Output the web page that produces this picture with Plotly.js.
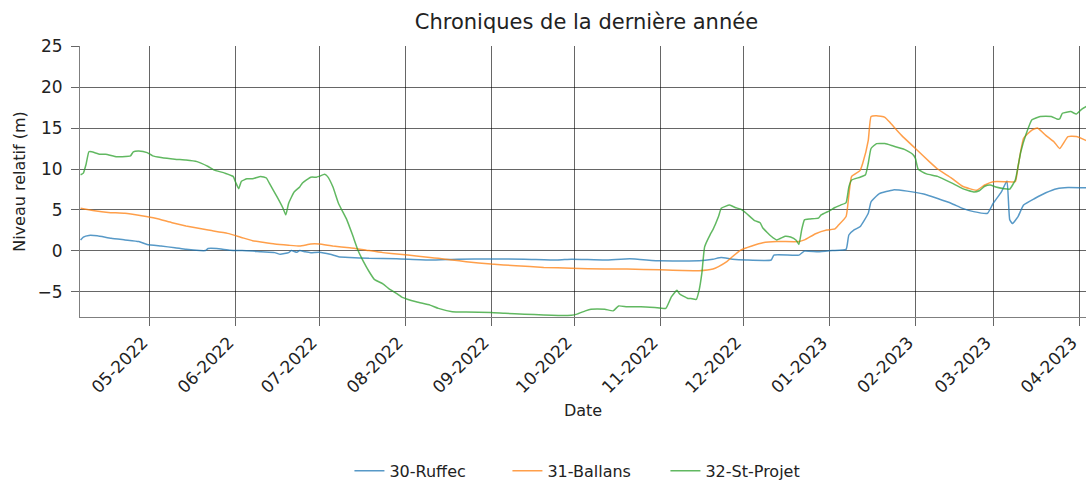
<!DOCTYPE html>
<html>
<head>
<meta charset="utf-8">
<script src="https://cdn.plot.ly/plotly-3.0.1.min.js"></script>
<style>html,body{margin:0;padding:0;background:#fff;}#chart{width:1086px;height:481px;}</style>
</head>
<body>
<div id="chart"></div>
<script>
// 30-Ruffec
const ruffecDates = ["2022-04-06","2022-04-07","2022-04-09","2022-04-12","2022-04-17","2022-04-22","2022-04-27","2022-04-30","2022-05-05","2022-05-10","2022-05-14","2022-05-19","2022-05-21","2022-05-22","2022-05-25","2022-05-30","2022-06-03","2022-06-07","2022-06-10","2022-06-15","2022-06-17","2022-06-20","2022-06-21","2022-06-23","2022-06-24","2022-06-26","2022-06-28","2022-07-01","2022-07-05","2022-07-08","2022-07-12","2022-07-19","2022-07-29","2022-08-10","2022-08-20","2022-09-01","2022-09-13","2022-09-25","2022-09-30","2022-10-12","2022-10-21","2022-11-01","2022-11-15","2022-11-20","2022-11-23","2022-11-27","2022-12-02","2022-12-11","2022-12-12","2022-12-21","2022-12-23","2022-12-28","2023-01-02","2023-01-07","2023-01-08","2023-01-10","2023-01-12","2023-01-15","2023-01-16","2023-01-19","2023-01-24","2023-01-29","2023-02-04","2023-02-09","2023-02-14","2023-02-18","2023-02-22","2023-02-27","2023-03-01","2023-03-04","2023-03-06","2023-03-07","2023-03-08","2023-03-10","2023-03-12","2023-03-16","2023-03-20","2023-03-24","2023-03-28","2023-04-04"];
const ruffecValues = [1.35,1.7,1.9,1.85,1.55,1.35,1.15,0.8,0.6,0.4,0.2,0.05,0.05,0.3,0.3,0.1,0.05,0.0,-0.1,-0.2,-0.4,-0.2,0.05,-0.15,0.05,-0.1,-0.2,-0.15,-0.4,-0.7,-0.8,-0.9,-0.95,-1.1,-1.0,-0.97,-1.0,-1.1,-1.0,-1.1,-0.95,-1.2,-1.2,-1.0,-0.8,-1.0,-1.1,-1.1,-0.5,-0.5,0.0,-0.1,0.05,0.2,1.95,2.6,2.95,4.6,6.0,7.0,7.45,7.3,6.95,6.4,5.8,5.2,4.8,4.6,5.8,7.2,8.55,3.8,3.35,4.2,5.6,6.4,7.1,7.6,7.75,7.7];

// 31-Ballans
const ballansDates = ["2022-04-06","2022-04-11","2022-04-16","2022-04-22","2022-04-28","2022-05-03","2022-05-09","2022-05-14","2022-05-22","2022-05-29","2022-06-03","2022-06-07","2022-06-10","2022-06-15","2022-06-20","2022-06-24","2022-06-28","2022-07-01","2022-07-06","2022-07-12","2022-07-18","2022-07-24","2022-07-30","2022-08-05","2022-08-10","2022-08-13","2022-08-18","2022-08-23","2022-09-01","2022-09-10","2022-09-20","2022-09-30","2022-10-12","2022-10-20","2022-11-01","2022-11-15","2022-11-20","2022-11-22","2022-11-25","2022-11-27","2022-11-30","2022-12-04","2022-12-08","2022-12-13","2022-12-21","2022-12-23","2022-12-27","2022-12-31","2023-01-03","2023-01-04","2023-01-07","2023-01-08","2023-01-09","2023-01-12","2023-01-13","2023-01-15","2023-01-16","2023-01-18","2023-01-21","2023-01-23","2023-01-27","2023-02-01","2023-02-06","2023-02-09","2023-02-14","2023-02-18","2023-02-23","2023-02-26","2023-03-01","2023-03-06","2023-03-09","2023-03-10","2023-03-12","2023-03-15","2023-03-17","2023-03-20","2023-03-23","2023-03-25","2023-03-28","2023-03-31","2023-04-04"];
const ballansValues = [5.2,4.9,4.7,4.6,4.3,4.0,3.45,3.05,2.55,2.15,1.65,1.25,1.1,0.85,0.7,0.6,0.85,0.85,0.6,0.4,0.1,-0.2,-0.4,-0.6,-0.8,-0.9,-1.1,-1.3,-1.6,-1.8,-2.0,-2.1,-2.2,-2.2,-2.3,-2.4,-2.2,-1.9,-1.3,-0.7,0.1,0.6,1.0,1.15,1.15,1.35,2.1,2.55,2.7,3.05,4.2,6.8,9.1,9.8,10.7,13.5,16.4,16.5,16.3,15.6,14.1,12.5,10.9,10.0,8.9,7.9,7.4,8.05,8.45,8.45,8.45,10.3,13.75,14.75,15.0,14.1,13.3,12.5,13.95,13.95,13.4];

// 32-St-Projet
const stProjetDates = ["2022-04-06","2022-04-07","2022-04-08","2022-04-09","2022-04-10","2022-04-13","2022-04-15","2022-04-19","2022-04-21","2022-04-24","2022-04-25","2022-04-27","2022-04-30","2022-05-02","2022-05-05","2022-05-10","2022-05-14","2022-05-18","2022-05-22","2022-05-24","2022-05-28","2022-05-31","2022-06-01","2022-06-02","2022-06-03","2022-06-05","2022-06-07","2022-06-10","2022-06-12","2022-06-13","2022-06-16","2022-06-18","2022-06-19","2022-06-20","2022-06-22","2022-06-24","2022-06-25","2022-06-28","2022-06-30","2022-07-01","2022-07-03","2022-07-04","2022-07-06","2022-07-08","2022-07-11","2022-07-13","2022-07-15","2022-07-17","2022-07-19","2022-07-21","2022-07-24","2022-07-26","2022-07-29","2022-07-31","2022-08-05","2022-08-10","2022-08-13","2022-08-18","2022-08-23","2022-09-01","2022-09-06","2022-09-13","2022-09-20","2022-09-30","2022-10-02","2022-10-05","2022-10-07","2022-10-12","2022-10-15","2022-10-17","2022-10-20","2022-10-25","2022-10-30","2022-11-03","2022-11-05","2022-11-07","2022-11-08","2022-11-11","2022-11-12","2022-11-14","2022-11-15","2022-11-16","2022-11-17","2022-11-19","2022-11-20","2022-11-22","2022-11-23","2022-11-26","2022-11-28","2022-11-30","2022-12-02","2022-12-05","2022-12-07","2022-12-08","2022-12-11","2022-12-13","2022-12-16","2022-12-18","2022-12-20","2022-12-21","2022-12-22","2022-12-23","2022-12-25","2022-12-28","2022-12-29","2023-01-01","2023-01-03","2023-01-05","2023-01-07","2023-01-08","2023-01-09","2023-01-12","2023-01-14","2023-01-15","2023-01-16","2023-01-18","2023-01-21","2023-01-24","2023-01-28","2023-01-31","2023-02-01","2023-02-02","2023-02-05","2023-02-09","2023-02-14","2023-02-18","2023-02-22","2023-02-24","2023-02-26","2023-02-28","2023-03-02","2023-03-05","2023-03-07","2023-03-09","2023-03-11","2023-03-13","2023-03-15","2023-03-18","2023-03-22","2023-03-24","2023-03-25","2023-03-26","2023-03-29","2023-03-31","2023-04-02","2023-04-04"];
const stProjetValues = [9.3,9.5,10.6,12.1,12.1,11.8,11.8,11.5,11.5,11.6,12.1,12.2,12.0,11.6,11.4,11.2,11.1,10.9,10.3,9.9,9.5,9.1,8.3,7.6,8.5,8.8,8.8,9.1,8.9,8.3,6.5,5.2,4.4,5.8,7.2,7.8,8.3,9.0,9.0,9.1,9.35,9.1,7.8,5.8,3.8,2.0,0.1,-1.3,-2.5,-3.5,-4.0,-4.55,-5.2,-5.65,-6.2,-6.6,-7.0,-7.4,-7.45,-7.5,-7.6,-7.7,-7.8,-7.85,-7.7,-7.3,-7.1,-7.1,-7.3,-6.7,-6.8,-6.8,-6.9,-7.0,-5.6,-4.8,-5.25,-5.8,-5.8,-5.9,-4.8,-2.7,0.5,2.0,2.6,4.2,5.2,5.6,5.3,5.1,4.6,3.7,3.45,2.8,1.8,1.35,1.8,1.7,1.3,0.8,2.6,3.8,3.9,4.0,4.4,4.9,5.3,5.6,5.9,7.8,8.65,9.0,9.3,10.7,12.5,13.1,13.1,12.8,12.4,11.8,11.3,9.96,9.4,9.1,8.3,7.6,7.2,7.35,7.9,8.05,7.8,7.6,7.55,8.65,12.1,14.35,16.0,16.4,16.4,16.1,16.1,16.8,17.0,16.7,17.3,17.7];

const seriesNames = ["30-Ruffec","31-Ballans","32-St-Projet"];
const seriesColors = ["#1f77b4","#ff7f0e","#2ca02c"];
const yTicks = [-5,0,5,10,15,20,25];
const yTickLabels = ["−5","0","5","10","15","20","25"];
const xTicks = ["2022-05-01","2022-06-01","2022-07-01","2022-08-01","2022-09-01","2022-10-01","2022-11-01","2022-12-01","2023-01-01","2023-02-01","2023-03-01","2023-04-01"];
const xTickLabels = ["05-2022","06-2022","07-2022","08-2022","09-2022","10-2022","11-2022","12-2022","01-2023","02-2023","03-2023","04-2023"];

const xs = [ruffecDates, ballansDates, stProjetDates];
const ys = [ruffecValues, ballansValues, stProjetValues];
const traces = seriesNames.map((n, i) => ({
  type: "scatter", mode: "lines", name: n, x: xs[i], y: ys[i],
  line: {color: seriesColors[i], width: 1.5, shape: "spline", smoothing: 0.4},
  opacity: 0.75
}));

const font = {family: "DejaVu Sans, sans-serif", size: 17, color: "#222"};
const layout = {
  width: 1086, height: 481,
  margin: {l: 80, r: 0, t: 46, b: 164},
  paper_bgcolor: "#fff", plot_bgcolor: "#fff",
  font: font,
  title: {text: "Chroniques de la dernière année", font: {family: "DejaVu Sans, sans-serif", size: 21, color: "#222"}, xref: "container", x: 0.540, xanchor: "center", yref: "container", y: 0.955, yanchor: "middle"},
  xaxis: {
    type: "date", range: ["2022-04-05 19:00", "2023-04-03 12:00"],
    tickmode: "array", tickvals: xTicks, ticktext: xTickLabels, tickangle: -45,
    ticks: "outside", ticklen: 8, tickcolor: "rgba(0,0,0,0.6)",
    ticklabeloverflow: "allow", ticklabelshift: -7,
    showgrid: true, gridcolor: "rgba(0,0,0,0.6)", gridwidth: 1,
    showline: true, linecolor: "rgba(0,0,0,0.5)", linewidth: 1,
    zeroline: false, tickfont: {size: 17},
    title: {text: "Date", font: {size: 16}, standoff: 8}
  },
  yaxis: {
    range: [-8.05, 25], tickmode: "array", tickvals: yTicks, ticktext: yTickLabels,
    ticks: "outside", ticklen: 8, tickcolor: "rgba(0,0,0,0.6)",
    ticklabelstandoff: 5,
    showgrid: true, gridcolor: "rgba(0,0,0,0.6)", gridwidth: 1,
    showline: true, linecolor: "rgba(0,0,0,0.5)", linewidth: 1,
    zeroline: false, tickfont: {size: 17},
    title: {text: "Niveau relatif (m)", font: {size: 16}, standoff: 7}
  },
  showlegend: true,
  legend: {orientation: "h", xref: "container", yref: "container", x: 0.54, xanchor: "center", y: 0.021, yanchor: "middle", font: {size: 16}, entrywidth: 113, entrywidthmode: "pixels", tracegroupgap: 0}
};
Plotly.newPlot("chart", traces, layout, {displayModeBar: false, staticPlot: true});
</script>
</body>
</html>
